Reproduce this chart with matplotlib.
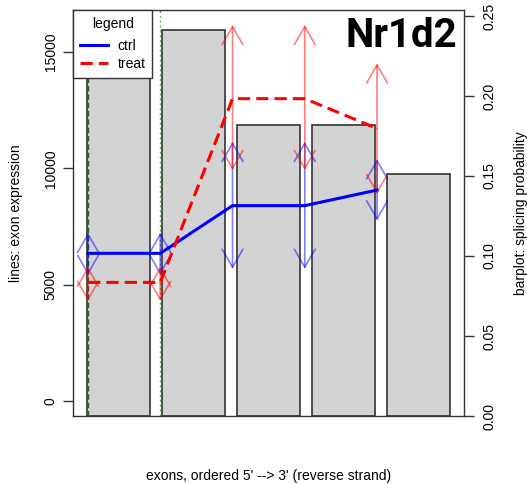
import numpy as np
import matplotlib
matplotlib.use("Agg")
import matplotlib.pyplot as plt

plt.rcParams['font.family'] = ['Liberation Sans', 'DejaVu Sans']
plt.rcParams['font.size'] = 10

# data
exons = [1, 2, 3, 4, 5]
splice_prob = [0.244, 0.241, 0.182, 0.182, 0.151]
ctrl_expr = [6350, 6350, 8400, 8400, 9070]
treat_expr = [5100, 5100, 13000, 13000, 11720]
ctrl_upper = [7240, 7240, 11150, 11150, 10400]
ctrl_lower = [5420, 5420, 5680, 5680, 7760]
treat_upper = [5780, 5780, 16170, 16170, 14520]
treat_lower = [4300, 4300, 9930, 9930, 8900]
marked_exons = [1, 2]
gene = "Nr1d2"

fig = plt.figure(figsize=(5.27, 4.84), dpi=100)
rect = [73 / 527, 68 / 484, 391 / 527, 406 / 484]

# barplot (splicing probability, right axis)
axb = fig.add_axes(rect)
bar_x = 0.7 + 1.2 * np.arange(len(exons))
axb.bar(bar_x, splice_prob, width=1.0, color='#d3d3d3', edgecolor='#333333', linewidth=1.2)
axb.set_xlim(-0.032, 6.232)
axb.set_ylim(0, 0.25375)
axb.set_xticks([])
axb.yaxis.tick_right()
axb.set_yticks([0, 0.05, 0.10, 0.15, 0.20, 0.25])
axb.set_yticklabels(['0.00', '0.05', '0.10', '0.15', '0.20', '0.25'])
axb.tick_params(axis='y', length=7, width=1, pad=6, color='#333333')
for lab in axb.get_yticklabels():
    lab.set_rotation(90)
    lab.set_va('center')
    lab.set_ha('left')
for s in axb.spines.values():
    s.set_visible(False)

# lines (exon expression, left axis)
axl = fig.add_axes(rect, facecolor='none')
axl.set_xlim(0.792, 6.204)
axl.set_ylim(-645, 16813)

axl.axvline(marked_exons[0], color='#1f6b1f', linestyle=(0, (4, 2)), lw=1, zorder=1)
axl.axvline(marked_exons[1], color='#66a866', linestyle=(0, (1.5, 2)), lw=1, zorder=1)

def ci_arrow(x, y0, y1, col):
    axl.annotate('', xy=(x, y1), xytext=(x, y0),
                 arrowprops=dict(arrowstyle='->,head_length=13,head_width=7.5',
                                 mutation_scale=1, color=col, alpha=0.5, lw=1.2,
                                 shrinkA=0, shrinkB=0), zorder=2)

for i, x in enumerate(exons):
    ci_arrow(x, ctrl_expr[i], ctrl_upper[i], '#0000ff')
    ci_arrow(x, ctrl_expr[i], ctrl_lower[i], '#0000ff')
    ci_arrow(x, treat_expr[i], treat_upper[i], '#ff0000')
    ci_arrow(x, treat_expr[i], treat_lower[i], '#ff0000')

axl.plot(exons, ctrl_expr, color='#0000ff', lw=2.2, label='ctrl', zorder=3)
axl.plot(exons, treat_expr, color='#ff0000', lw=2.2, linestyle=(0, (4, 2)), label='treat', zorder=3)

axl.set_xticks([])
axl.set_yticks([0, 5000, 10000, 15000])
axl.tick_params(axis='y', length=7, width=1, pad=4, color='#333333')
for lab in axl.get_yticklabels():
    lab.set_rotation(90)
    lab.set_va('center')
for s in axl.spines.values():
    s.set_color('#333333')
    s.set_linewidth(1)

leg = axl.legend(title='legend', loc='upper left', borderaxespad=0, fancybox=False,
                 framealpha=1, edgecolor='#333333', labelspacing=0.25,
                 handletextpad=0.7, borderpad=0.5, fontsize=10, title_fontsize=10)
leg.get_frame().set_linewidth(1)
leg.set_zorder(10)
leg._legend_box.sep = 6  # extra gap below the title

axl.text(0.982, 0.982, gene, transform=axl.transAxes, ha='right', va='top',
         fontsize=29, fontweight='bold', family='Roboto', zorder=11)

fig.text(16 / 527, 0.56, 'lines: exon expression', rotation=90, ha='center', va='center')
fig.text(521 / 527, 0.56, 'barplot: splicing probability', rotation=90, ha='center', va='center')
fig.text(268.5 / 527, 8 / 484, "exons, ordered 5' --> 3' (reverse strand)", ha='center', va='center')

fig.savefig('out.png', dpi=100)
